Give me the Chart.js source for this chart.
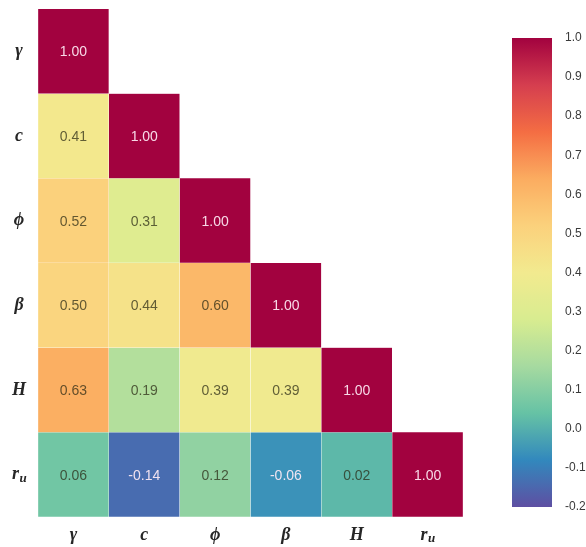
<!DOCTYPE html>
<html>
<head>
<meta charset="utf-8">
<script src="https://cdn.jsdelivr.net/npm/chart.js@4/dist/chart.umd.min.js"></script>
<style>
  body { margin: 0; background: #fff; }
  #wrap { position: relative; width: 586px; height: 547px; }
  #heat { position: absolute; left: 0; top: 0; }
  #bar { position: absolute; left: 500px; top: 0; }
</style>
</head>
<body>
<div id="wrap">
  <canvas id="heat" width="586" height="547"></canvas>
  <canvas id="bar" width="86" height="547"></canvas>
</div>
<script>
// variables, in row / column order
const categories = ["γ", "c", "ϕ", "β", "H", "r"];
const subscripts = ["", "", "", "", "", "u"];

// lower triangle of the correlation matrix
const rowGamma = [1.00];
const rowC = [0.41, 1.00];
const rowPhi = [0.52, 0.31, 1.00];
const rowBeta = [0.50, 0.44, 0.60, 1.00];
const rowH = [0.63, 0.19, 0.39, 0.39, 1.00];
const rowRu = [0.06, -0.14, 0.12, -0.06, 0.02, 1.00];
const rows = [rowGamma, rowC, rowPhi, rowBeta, rowH, rowRu];

// colour bar
const vmin = -0.2;
const vmax = 1.0;
const barTicks = [-0.2, -0.1, 0.0, 0.1, 0.2, 0.3, 0.4, 0.5, 0.6, 0.7, 0.8, 0.9, 1.0];

// Spectral-like palette, high values first (pale middle a bit deeper, like the picture)
const spectral = ["#a2023f", "#d53e4f", "#f46d43", "#fbac60", "#fbd17c", "#f2ea8f",
  "#d8ec90", "#a6daa0", "#66c2a5", "#3288bd", "#5e4fa2"];

const hexToRgb = (h) => [1, 3, 5].map(i => parseInt(h.substr(i, 2), 16));

const spectralAt = (t) => {
  t = Math.min(1, Math.max(0, t));
  const pos = t * (spectral.length - 1);
  const i = Math.min(spectral.length - 2, Math.floor(pos));
  const f = pos - i;
  const a = hexToRgb(spectral[i]);
  const b = hexToRgb(spectral[i + 1]);
  return a.map((v, k) => Math.round(v + (b[k] - v) * f));
}

const rgbFor = (v) => spectralAt(1 - (v - vmin) / (vmax - vmin));

const colorFor = (v) => {
  const c = rgbFor(v);
  return `rgb(${c[0]}, ${c[1]}, ${c[2]})`;
}

const isDark = (v) => {
  const c = rgbFor(v);
  return 0.299 * c[0] + 0.587 * c[1] + 0.114 * c[2] < 135;
}

// one floating-bar dataset per row, spanning [row, row + 1] on a reversed y axis
const datasets = rows.map((row, r) => ({
  label: categories[r],
  data: categories.map((_, c) => c < row.length ? [r, r + 1] : null),
  values: categories.map((_, c) => c < row.length ? row[c] : null),
  backgroundColor: categories.map((_, c) => c < row.length ? colorFor(row[c]) : "transparent"),
  borderColor: "rgba(255,255,255,0.3)",
  borderWidth: 0.5,
  barPercentage: 1,
  categoryPercentage: 1,
  grouped: false
}));

const serif = "'Liberation Serif', 'DejaVu Serif', serif";

const drawLabel = (ctx, x, y, i) => {
  ctx.save();
  ctx.fillStyle = "#262626";
  ctx.textBaseline = "middle";
  ctx.textAlign = "left";
  const main = categories[i];
  const sub = subscripts[i];
  ctx.font = "italic bold 13px " + serif;
  const w2 = sub ? ctx.measureText(sub).width : 0;
  ctx.font = "italic bold 18px " + serif;
  const w1 = ctx.measureText(main).width;
  const x0 = x - (w1 + w2) / 2;
  ctx.fillText(main, x0, y);
  if (sub) {
    ctx.font = "italic bold 13px " + serif;
    ctx.fillText(sub, x0 + w1 + 0.5, y + 4);
  }
  ctx.restore();
}

const heatLabels = {
  id: "heatLabels",
  afterDatasetsDraw(chart) {
    const ctx = chart.ctx;
    ctx.save();
    ctx.font = "14px 'Liberation Sans', Arial, sans-serif";
    ctx.textAlign = "center";
    ctx.textBaseline = "middle";
    chart.data.datasets.forEach((ds, d) => {
      const meta = chart.getDatasetMeta(d);
      meta.data.forEach((el, c) => {
        const v = ds.values[c];
        if (v === null) return;
        const p = el.getProps(["x", "y", "base"], true);
        ctx.fillStyle = isDark(v) ? "rgba(255,235,245,0.92)" : "rgba(40,40,20,0.72)";
        ctx.fillText(v.toFixed(2), p.x, (p.y + p.base) / 2 + 1);
      });
    });
    ctx.restore();

    const xs = chart.scales.x;
    const ys = chart.scales.y;
    categories.forEach((_, i) => {
      drawLabel(ctx, xs.getPixelForValue(i), chart.chartArea.bottom + 18, i);
      drawLabel(ctx, 19, ys.getPixelForValue(i + 0.5), i);
    });
  }
};

new Chart(document.getElementById("heat"), {
  type: "bar",
  data: { labels: categories, datasets },
  options: {
    responsive: false,
    animation: false,
    layout: { padding: { left: 38, right: 123, top: 9, bottom: 30 } },
    plugins: { legend: { display: false }, tooltip: { enabled: false } },
    scales: {
      x: { display: false },
      y: { display: false, min: 0, max: 6, reverse: true }
    }
  },
  plugins: [heatLabels]
});

// colour bar
new Chart(document.getElementById("bar"), {
  type: "bar",
  data: {
    labels: ["cbar"],
    datasets: [{
      data: [[vmin, vmax]],
      borderWidth: 0,
      barPercentage: 1,
      categoryPercentage: 1,
      backgroundColor: (context) => {
        const area = context.chart.chartArea;
        if (!area) return spectral[0];
        const g = context.chart.ctx.createLinearGradient(0, area.bottom, 0, area.top);
        for (let k = 0; k <= 40; k++) {
          const t = k / 40;
          g.addColorStop(t, colorFor(vmin + t * (vmax - vmin)));
        }
        return g;
      }
    }]
  },
  options: {
    responsive: false,
    animation: false,
    layout: { padding: { left: 12, right: 0, top: 38, bottom: 40 } },
    plugins: { legend: { display: false }, tooltip: { enabled: false } },
    scales: {
      x: { display: false },
      y: {
        position: "right",
        min: vmin,
        max: vmax,
        afterFit: (scale) => { scale.width = 34; },
        afterBuildTicks: (scale) => { scale.ticks = barTicks.map(v => ({ value: v })); },
        grid: { display: false },
        border: { display: false },
        ticks: {
          padding: 5,
          color: "#3a3a3a",
          font: { family: "'Liberation Sans', Arial, sans-serif", size: 12 },
          callback: (v) => (Math.abs(v) < 1e-9 ? 0 : v).toFixed(1)
        }
      }
    }
  }
});
</script>
</body>
</html>
